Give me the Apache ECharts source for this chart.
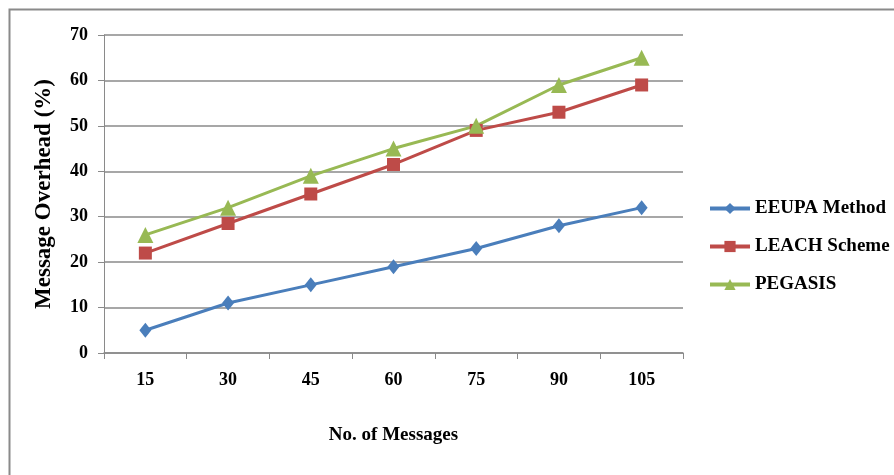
<!DOCTYPE html>
<html>
<head>
<meta charset="utf-8">
<script src="https://cdn.jsdelivr.net/npm/echarts@6/dist/echarts.min.js"></script>
<style>
  html, body { margin: 0; padding: 0; background: #fff; }
  #chart { width: 894px; height: 475px; }
</style>
</head>
<body>
<div id="chart"></div>
<script>
const messages = ['15', '30', '45', '60', '75', '90', '105']
const eeupa = [5, 11, 15, 19, 23, 28, 32]
const leach = [22, 28.5, 35, 41.5, 49, 53, 59]
const pegasis = [26, 32, 39, 45, 50, 59, 65]

const font = 'Liberation Serif, Times New Roman, serif'
const gray = '#8a8a8a'

const chart = echarts.init(document.getElementById('chart'))

const lineSeries = (name, data, color, symbol, size) => ({
  name,
  type: 'line',
  data,
  symbol,
  symbolSize: size,
  lineStyle: { width: 3, color },
  itemStyle: { color },
  animation: false
})

chart.setOption({
  animation: false,
  graphic: [{
    type: 'rect',
    shape: { x: 9.5, y: 9.5, width: 1000, height: 1000 },
    style: { fill: 'none', stroke: gray, lineWidth: 2 },
    silent: true
  }],
  grid: { left: 104, right: 211, top: 35, bottom: 122, containLabel: false },
  legend: {
    orient: 'vertical',
    left: 703,
    top: 194,
    itemWidth: 40,
    itemHeight: 14,
    itemGap: 19,
    lineStyle: { width: 4 },
    textStyle: { fontFamily: font, fontWeight: 'bold', fontSize: 19, color: '#000' },
    data: ['EEUPA Method', 'LEACH Scheme', 'PEGASIS']
  },
  xAxis: {
    type: 'category',
    data: messages,
    boundaryGap: true,
    name: 'No. of Messages',
    nameLocation: 'middle',
    nameGap: 73,
    nameTextStyle: { fontFamily: font, fontWeight: 'bold', fontSize: 19, color: '#000' },
    axisLine: { lineStyle: { color: gray, width: 1.5 } },
    axisTick: { show: true, length: 6, lineStyle: { color: gray } },
    axisLabel: { fontFamily: font, fontWeight: 'bold', fontSize: 18, color: '#000', margin: 18 }
  },
  yAxis: {
    type: 'value',
    min: 0,
    max: 70,
    interval: 10,
    name: 'Message Overhead (%)',
    nameLocation: 'middle',
    nameGap: 48,
    nameTextStyle: { fontFamily: font, fontWeight: 'bold', fontSize: 23, color: '#000' },
    axisLine: { show: true, lineStyle: { color: gray, width: 1 } },
    axisTick: { show: true, length: 6, lineStyle: { color: gray } },
    axisLabel: { fontFamily: font, fontWeight: 'bold', fontSize: 18, color: '#000', margin: 16 },
    splitLine: { show: true, lineStyle: { color: gray, width: 1.5 } }
  },
  series: [
    lineSeries('EEUPA Method', eeupa, '#4a7ebb', 'diamond', [12, 15]),
    lineSeries('LEACH Scheme', leach, '#be4b48', 'rect', 13),
    lineSeries('PEGASIS', pegasis, '#98b954', 'triangle', 16)
  ]
})
</script>
</body>
</html>
